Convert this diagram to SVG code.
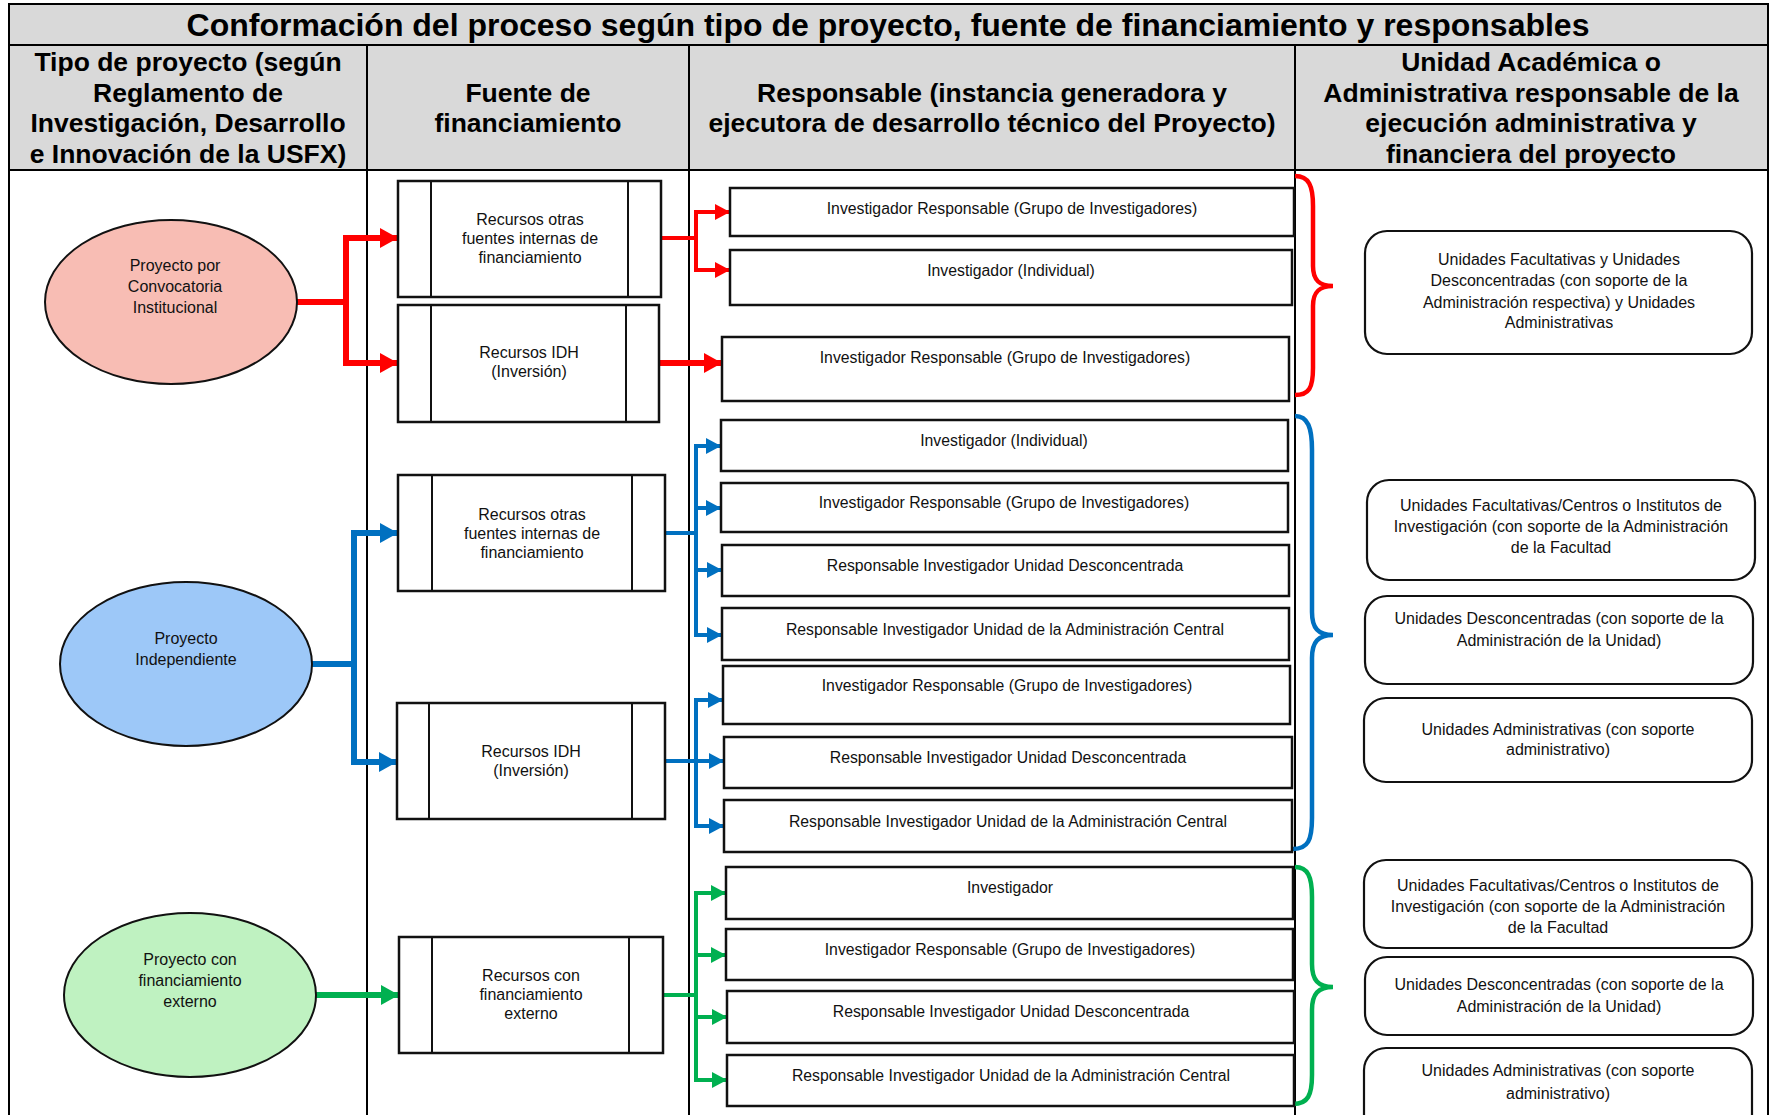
<svg xmlns="http://www.w3.org/2000/svg" width="1772" height="1115" viewBox="0 0 1772 1115">
<style>
.hdr{font-family:"Liberation Sans",Arial,sans-serif;font-weight:bold;font-size:26.5px;text-anchor:middle;fill:#000}
.ttl{font-family:"Liberation Sans",Arial,sans-serif;font-weight:bold;font-size:32px;text-anchor:middle;fill:#000}
.t{font-family:"Liberation Sans",Arial,sans-serif;font-size:16px;text-anchor:middle;fill:#111}
.tr{font-family:"Liberation Sans",Arial,sans-serif;font-size:15.8px;text-anchor:middle;fill:#111}
.box{fill:#fff;stroke:#111;stroke-width:2.5}
.inner{stroke:#111;stroke-width:2}
.rbox{fill:#fff;stroke:#111;stroke-width:2.5}
.ubox{fill:#fff;stroke:#111;stroke-width:2.2}
.ell{stroke:#111;stroke-width:2}
.grid{stroke:#000;stroke-width:2;fill:none}
.red{stroke:#FF0000;fill:none}
.blue{stroke:#0070C0;fill:none}
.green{stroke:#00B050;fill:none}
.thick{stroke-width:6}
.thin{stroke-width:4}
.brace{stroke-width:4.5;fill:none}
</style>
<defs>
<marker id="arR" markerUnits="userSpaceOnUse" markerWidth="18" markerHeight="20" refX="18" refY="10" orient="auto"><path d="M0,0 L18,10 L0,20 z" fill="#FF0000"/></marker>
<marker id="arRs" markerUnits="userSpaceOnUse" markerWidth="15" markerHeight="16" refX="15" refY="8" orient="auto"><path d="M0,0 L15,8 L0,16 z" fill="#FF0000"/></marker>
<marker id="arB" markerUnits="userSpaceOnUse" markerWidth="18" markerHeight="20" refX="18" refY="10" orient="auto"><path d="M0,0 L18,10 L0,20 z" fill="#0070C0"/></marker>
<marker id="arBs" markerUnits="userSpaceOnUse" markerWidth="15" markerHeight="16" refX="15" refY="8" orient="auto"><path d="M0,0 L15,8 L0,16 z" fill="#0070C0"/></marker>
<marker id="arG" markerUnits="userSpaceOnUse" markerWidth="18" markerHeight="20" refX="18" refY="10" orient="auto"><path d="M0,0 L18,10 L0,20 z" fill="#00B050"/></marker>
<marker id="arGs" markerUnits="userSpaceOnUse" markerWidth="15" markerHeight="16" refX="15" refY="8" orient="auto"><path d="M0,0 L15,8 L0,16 z" fill="#00B050"/></marker>
</defs>

<rect width="1772" height="1115" fill="#fff"/>

<g id="table">
<rect x="9" y="4" width="1759" height="166" fill="#D9D9D9"/>
<path class="grid" d="M9,1115 V4 H1768 V1115" stroke-width="2.5"/>
<path class="grid" d="M9,45 H1768 M9,170 H1768"/>
<path class="grid" d="M367,45 V1115 M689,45 V1115 M1295,45 V1115"/>
<text class="ttl" x="888" y="36">Conformación del proceso según tipo de proyecto, fuente de financiamiento y responsables</text>
<text class="hdr" x="188" y="71">Tipo de proyecto (según</text>
<text class="hdr" x="188" y="102">Reglamento de</text>
<text class="hdr" x="188" y="132">Investigación, Desarrollo</text>
<text class="hdr" x="188" y="163">e Innovación de la USFX)</text>
<text class="hdr" x="528" y="102">Fuente de</text>
<text class="hdr" x="528" y="132">financiamiento</text>
<text class="hdr" x="992" y="102">Responsable (instancia generadora y</text>
<text class="hdr" x="992" y="132">ejecutora de desarrollo técnico del Proyecto)</text>
<text class="hdr" x="1531" y="71">Unidad Académica o</text>
<text class="hdr" x="1531" y="102">Administrativa responsable de la</text>
<text class="hdr" x="1531" y="132">ejecución administrativa y</text>
<text class="hdr" x="1531" y="163">financiera del proyecto</text>
</g>

<g id="connectors">
<path class="red thick" d="M297,302 H346 V238 H398" marker-end="url(#arR)"/>
<path class="red thick" d="M346,302 V363 H398" marker-end="url(#arR)"/>
<path class="red thin" d="M661,238 H696 V212 H730" marker-end="url(#arRs)"/>
<path class="red thin" d="M696,238 V270 H730" marker-end="url(#arRs)"/>
<path class="red thick" d="M659,363 H722" marker-end="url(#arR)"/>

<path class="blue thick" d="M312,664 H354 V533 H398" marker-end="url(#arB)"/>
<path class="blue thick" d="M354,664 V762 H397" marker-end="url(#arB)"/>
<path class="blue thin" d="M665,533 H696 V446 H721" marker-end="url(#arBs)"/>
<path class="blue thin" d="M696,533 V508 H721" marker-end="url(#arBs)"/>
<path class="blue thin" d="M696,533 V570 H722" marker-end="url(#arBs)"/>
<path class="blue thin" d="M696,560 V635 H722" marker-end="url(#arBs)"/>
<path class="blue thin" d="M665,761 H696 V700 H723" marker-end="url(#arBs)"/>
<path class="blue thin" d="M696,761 H724" marker-end="url(#arBs)"/>
<path class="blue thin" d="M696,761 V826 H724" marker-end="url(#arBs)"/>

<path class="green thick" d="M316,995 H399" marker-end="url(#arG)"/>
<path class="green thin" d="M663,995 H696 V893 H726" marker-end="url(#arGs)"/>
<path class="green thin" d="M696,995 V955 H726" marker-end="url(#arGs)"/>
<path class="green thin" d="M696,995 V1017 H727" marker-end="url(#arGs)"/>
<path class="green thin" d="M696,1010 V1080 H727" marker-end="url(#arGs)"/>

<path class="red brace" d="M1295,176 C1309,176 1313,186 1313,206 L1313,266 C1313,280 1319,286 1333,286 C1319,286 1313,292 1313,306 L1313,368 C1313,388 1309,395 1295,395"/>
<path class="blue brace" d="M1295,416 C1308,416 1312,428 1312,450 L1312,612 C1312,628 1318,635 1333,635 C1318,635 1312,642 1312,658 L1312,818 C1312,840 1308,849 1293,849"/>
<path class="green brace" d="M1295,867 C1308,867 1312,877 1312,897 L1312,964 C1312,980 1318,987 1333,987 C1318,987 1312,994 1312,1010 L1312,1075 C1312,1095 1308,1104 1293,1104"/>
</g>

<g id="e1">
<ellipse class="ell" cx="171" cy="302" rx="126" ry="82" fill="#F8BDB4"/>
<text class="t" x="175" y="271">Proyecto por</text>
<text class="t" x="175" y="292">Convocatoria</text>
<text class="t" x="175" y="313">Institucional</text>
</g>
<g id="e2">
<ellipse class="ell" cx="186" cy="664" rx="126" ry="82" fill="#9DC8F8"/>
<text class="t" x="186" y="644">Proyecto</text>
<text class="t" x="186" y="665">Independiente</text>
</g>
<g id="e3">
<ellipse class="ell" cx="190" cy="995" rx="126" ry="82" fill="#BFF2C1"/>
<text class="t" x="190" y="965">Proyecto con</text>
<text class="t" x="190" y="986">financiamiento</text>
<text class="t" x="190" y="1007">externo</text>
</g>

<g id="fA">
<rect class="box" x="398" y="181" width="263" height="116"/>
<path class="inner" d="M431,181 V297 M628,181 V297"/>
<text class="t" x="530" y="225">Recursos otras</text>
<text class="t" x="530" y="244">fuentes internas de</text>
<text class="t" x="530" y="263">financiamiento</text>
</g>
<g id="fB">
<rect class="box" x="398" y="305" width="261" height="117"/>
<path class="inner" d="M431,305 V422 M626,305 V422"/>
<text class="t" x="529" y="358">Recursos IDH</text>
<text class="t" x="529" y="377">(Inversión)</text>
</g>
<g id="fC">
<rect class="box" x="398" y="475" width="267" height="116"/>
<path class="inner" d="M432,475 V591 M632,475 V591"/>
<text class="t" x="532" y="520">Recursos otras</text>
<text class="t" x="532" y="539">fuentes internas de</text>
<text class="t" x="532" y="558">financiamiento</text>
</g>
<g id="fD">
<rect class="box" x="397" y="703" width="268" height="116"/>
<path class="inner" d="M429,703 V819 M632,703 V819"/>
<text class="t" x="531" y="757">Recursos IDH</text>
<text class="t" x="531" y="776">(Inversión)</text>
</g>
<g id="fE">
<rect class="box" x="399" y="937" width="264" height="116"/>
<path class="inner" d="M432,937 V1053 M629,937 V1053"/>
<text class="t" x="531" y="981">Recursos con</text>
<text class="t" x="531" y="1000">financiamiento</text>
<text class="t" x="531" y="1019">externo</text>
</g>

<g id="r1"><rect class="rbox" x="730" y="188" width="564" height="48"/><text class="tr" x="1012" y="213.5">Investigador Responsable (Grupo de Investigadores)</text></g>
<g id="r2"><rect class="rbox" x="730" y="250" width="562" height="55"/><text class="tr" x="1011" y="275.5">Investigador (Individual)</text></g>
<g id="r3"><rect class="rbox" x="722" y="337" width="567" height="64"/><text class="tr" x="1005" y="362.5">Investigador Responsable (Grupo de Investigadores)</text></g>
<g id="r4"><rect class="rbox" x="721" y="420" width="567" height="51"/><text class="tr" x="1004" y="445.5">Investigador (Individual)</text></g>
<g id="r5"><rect class="rbox" x="721" y="483" width="567" height="49"/><text class="tr" x="1004" y="508">Investigador Responsable (Grupo de Investigadores)</text></g>
<g id="r6"><rect class="rbox" x="722" y="545" width="567" height="51"/><text class="tr" x="1005" y="570.5">Responsable Investigador Unidad Desconcentrada</text></g>
<g id="r7"><rect class="rbox" x="722" y="608" width="567" height="52"/><text class="tr" x="1005" y="634.5">Responsable Investigador Unidad de la Administración Central</text></g>
<g id="r8"><rect class="rbox" x="723" y="666" width="567" height="58"/><text class="tr" x="1007" y="690.5">Investigador Responsable (Grupo de Investigadores)</text></g>
<g id="r9"><rect class="rbox" x="724" y="737" width="568" height="51"/><text class="tr" x="1008" y="762.5">Responsable Investigador Unidad Desconcentrada</text></g>
<g id="r10"><rect class="rbox" x="724" y="800" width="568" height="52"/><text class="tr" x="1008" y="826.5">Responsable Investigador Unidad de la Administración Central</text></g>
<g id="r11"><rect class="rbox" x="726" y="867" width="567" height="52"/><text class="tr" x="1010" y="892.5">Investigador</text></g>
<g id="r12"><rect class="rbox" x="726" y="929" width="567" height="51"/><text class="tr" x="1010" y="954.5">Investigador Responsable (Grupo de Investigadores)</text></g>
<g id="r13"><rect class="rbox" x="727" y="991" width="567" height="52"/><text class="tr" x="1011" y="1016.5">Responsable Investigador Unidad Desconcentrada</text></g>
<g id="r14"><rect class="rbox" x="727" y="1055" width="567" height="51"/><text class="tr" x="1011" y="1080.5">Responsable Investigador Unidad de la Administración Central</text></g>

<g id="u1">
<rect class="ubox" x="1365" y="231" width="387" height="123" rx="22"/>
<text class="t" x="1559" y="264.5">Unidades Facultativas y Unidades</text>
<text class="t" x="1559" y="286">Desconcentradas (con soporte de la</text>
<text class="t" x="1559" y="307.5">Administración respectiva) y Unidades</text>
<text class="t" x="1559" y="328">Administrativas</text>
</g>
<g id="u2">
<rect class="ubox" x="1367" y="480" width="388" height="100" rx="22"/>
<text class="t" x="1561" y="511">Unidades Facultativas/Centros o Institutos de</text>
<text class="t" x="1561" y="532">Investigación (con soporte de la Administración</text>
<text class="t" x="1561" y="553">de la Facultad</text>
</g>
<g id="u3">
<rect class="ubox" x="1365" y="596" width="388" height="88" rx="22"/>
<text class="t" x="1559" y="624">Unidades Desconcentradas (con soporte de la</text>
<text class="t" x="1559" y="645.5">Administración de la Unidad)</text>
</g>
<g id="u4">
<rect class="ubox" x="1364" y="698" width="388" height="84" rx="22"/>
<text class="t" x="1558" y="735">Unidades Administrativas (con soporte</text>
<text class="t" x="1558" y="755">administrativo)</text>
</g>
<g id="u5">
<rect class="ubox" x="1364" y="860" width="388" height="88" rx="22"/>
<text class="t" x="1558" y="891">Unidades Facultativas/Centros o Institutos de</text>
<text class="t" x="1558" y="912">Investigación (con soporte de la Administración</text>
<text class="t" x="1558" y="933">de la Facultad</text>
</g>
<g id="u6">
<rect class="ubox" x="1365" y="957" width="388" height="78" rx="22"/>
<text class="t" x="1559" y="990">Unidades Desconcentradas (con soporte de la</text>
<text class="t" x="1559" y="1012">Administración de la Unidad)</text>
</g>
<g id="u7">
<rect class="ubox" x="1364" y="1048" width="388" height="90" rx="22"/>
<text class="t" x="1558" y="1076">Unidades Administrativas (con soporte</text>
<text class="t" x="1558" y="1099">administrativo)</text>
</g>
</svg>
